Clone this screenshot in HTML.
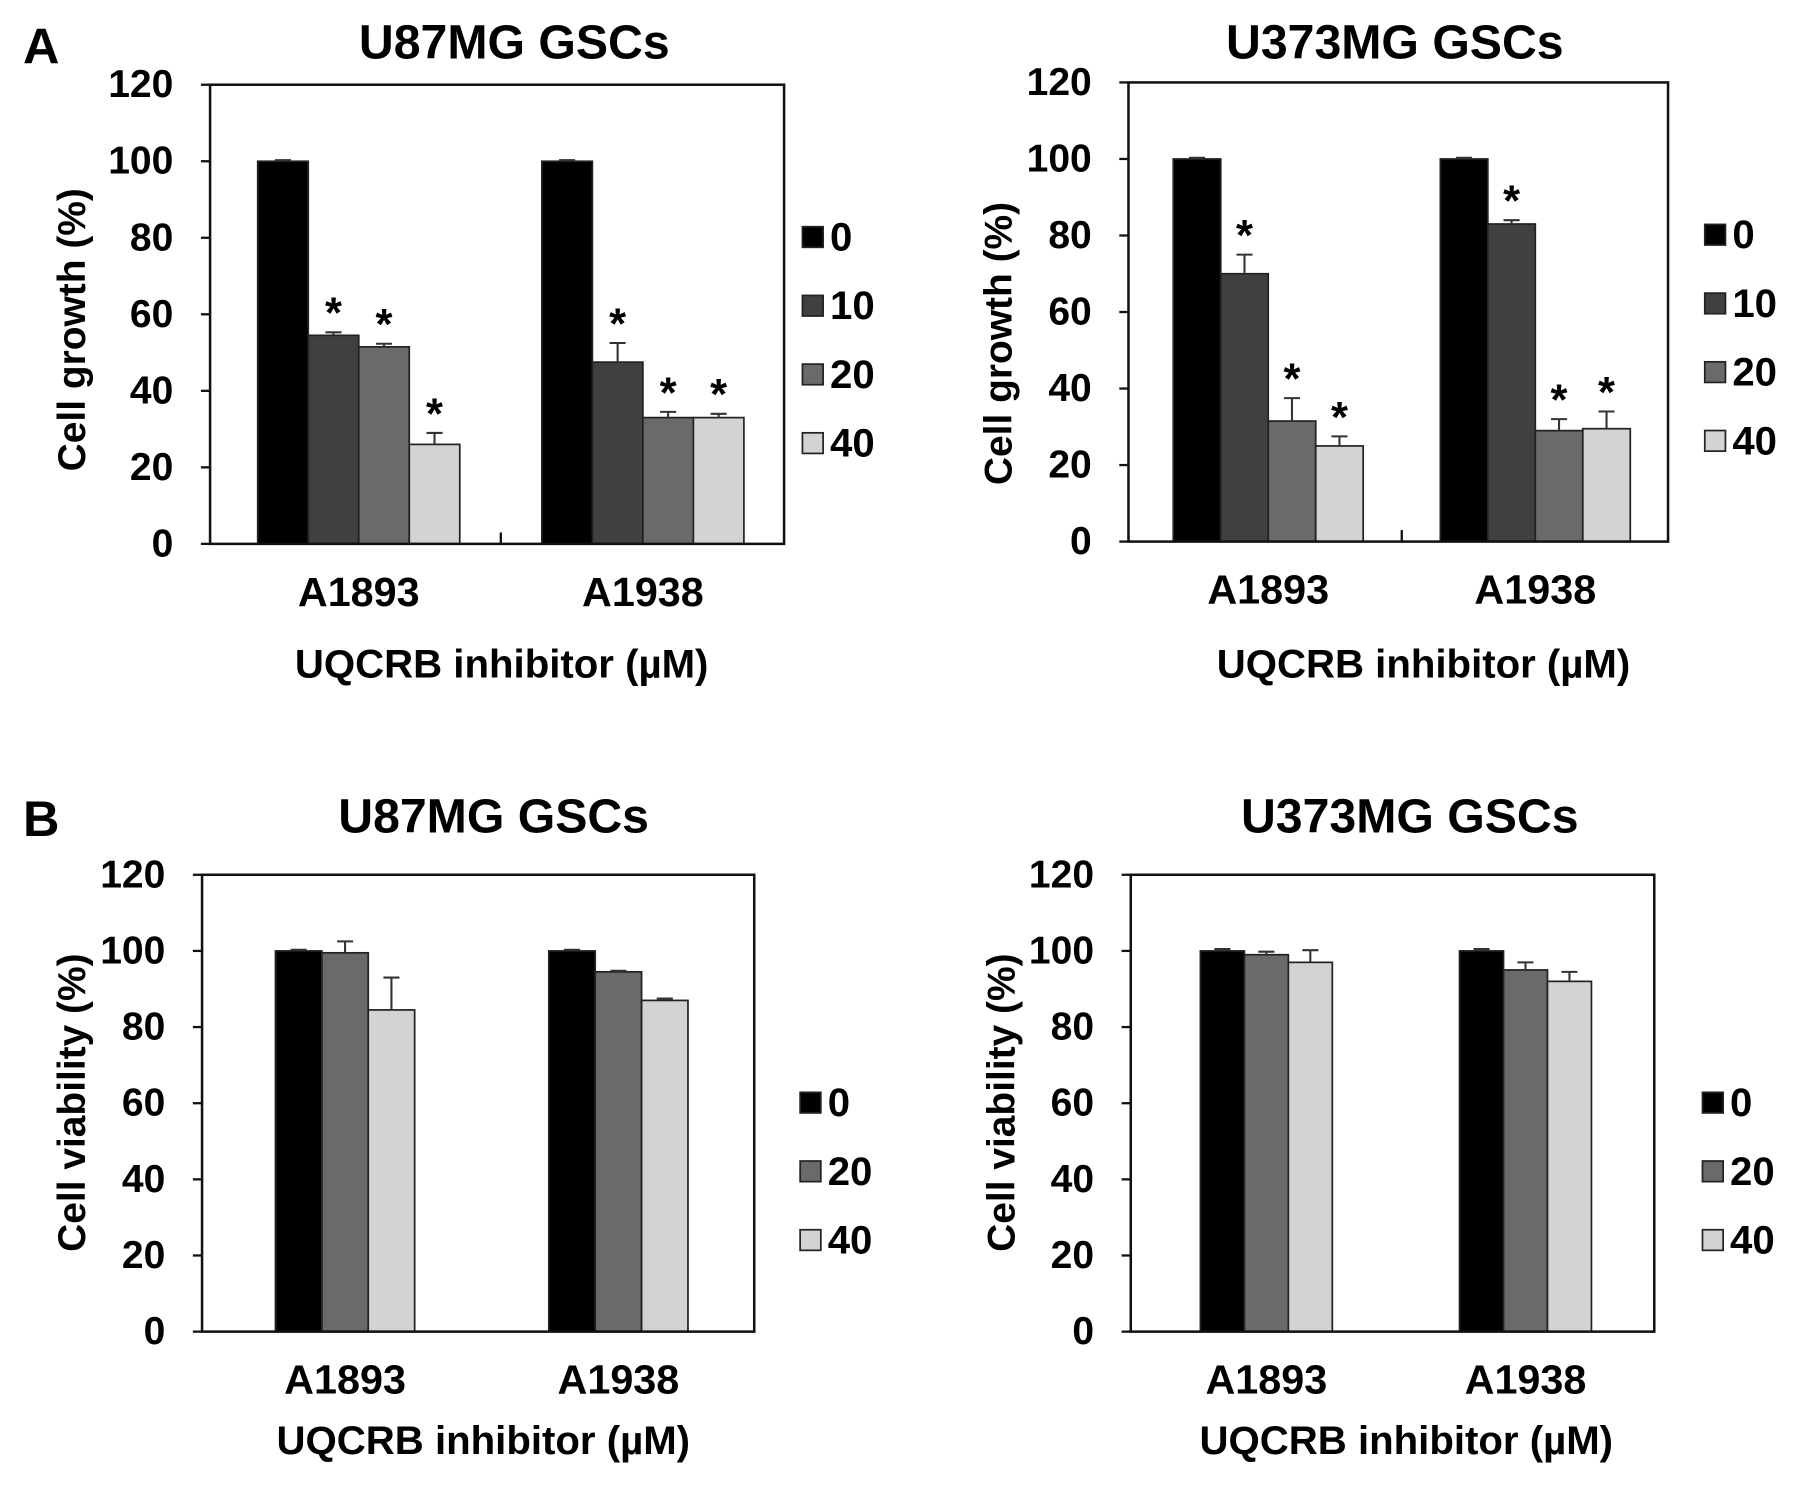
<!DOCTYPE html>
<html><head><meta charset="utf-8"><style>
html,body{margin:0;padding:0;background:#fff;}
svg{display:block;font-family:"Liberation Sans",Arial,sans-serif;font-weight:bold;}
</style></head><body>
<svg id="fig" width="1795" height="1485" viewBox="0 0 1795 1485" xmlns="http://www.w3.org/2000/svg">
<g id="root" transform="translate(0,0) scale(1.148,1.145)"></g>
</svg>
<script>
// ---- data ----
const categories = ["A1893", "A1938"];
const yTicks = [0, 20, 40, 60, 80, 100, 120];
const seriesColors = ["#000000", "#404040", "#6a6a6a", "#d3d3d3"];

const aLeftSeries = ["0", "10", "20", "40"];
const aLeftValues = [[100, 100], [54.5, 47.5], [51.5, 33], [26, 33]];
const aLeftErrors = [[0.3, 0.3], [0.8, 5], [0.8, 1.5], [3, 1]];
const aLeftStars = [[false, false], [true, true], [true, true], [true, true]];

const aRightSeries = ["0", "10", "20", "40"];
const aRightValues = [[100, 100], [70, 83], [31.5, 29], [25, 29.5]];
const aRightErrors = [[0.3, 0.3], [5, 1], [6, 3], [2.5, 4.5]];
const aRightStars = [[false, false], [true, true], [true, true], [true, true]];

const bLeftSeries = ["0", "20", "40"];
const bLeftValues = [[100, 100], [99.5, 94.5], [84.5, 87]];
const bLeftErrors = [[0.3, 0.3], [3, 0.3], [8.5, 0.5]];

const bRightSeries = ["0", "20", "40"];
const bRightValues = [[100, 100], [99, 95], [97, 92]];
const bRightErrors = [[0.5, 0.5], [0.8, 2], [3.2, 2.5]];

// ---- drawing ----
const NS = "http://www.w3.org/2000/svg";
const root = document.getElementById("root");
function mk(tag, attrs, parent, text) {
  const e = document.createElementNS(NS, tag);
  for (const k in attrs) e.setAttribute(k, attrs[k]);
  if (text !== undefined) e.textContent = text;
  (parent || root).appendChild(e);
  return e;
}

function panel(cfg) {
  const g = mk("g", {});
  
  
  const L = cfg.x0, R = cfg.x1, T = cfg.y0, B = cfg.y1;
  const yScale = v => B - (v / 120) * (B - T);
  const W = R - L;
  const groupCenter = i => L + W * (i === 0 ? 0.259 : 0.754);
  const nS = cfg.series.length;
  const bw = W * (nS === 4 ? 0.088 : 0.084);
  const xScale = (gi, si) => groupCenter(gi) - (nS * bw) / 2 + si * bw;

  const t = mk("text", {x: cfg.titleX, y: cfg.titleY, "font-size": 42, "text-anchor": "middle", "dominant-baseline": "central"}, g, cfg.title);
  
  

  for (let s = 0; s < nS; s++) {
    for (let c = 0; c < categories.length; c++) {
      const v = cfg.values[s][c];
      const x = xScale(c, s);
      const r = mk("rect", {x: x, y: yScale(v), width: bw, height: B - yScale(v), fill: seriesColors[cfg.colorIdx[s]], stroke: "#222", "stroke-width": 1.5}, g);
      
      
      const e = cfg.errors[s][c];
      const cx = x + bw / 2;
      const top = yScale(v + e);
      const eb = mk("path", {d: `M${cx},${yScale(v)}V${top}M${cx - 7},${top}H${cx + 7}`, stroke: "#333", "stroke-width": 1.8, fill: "none"}, g);
      
      
      if (cfg.stars && cfg.stars[s][c]) {
        const st = mk("text", {x: cx, y: top - 4, "font-size": 38, "text-anchor": "middle"}, g, "*");
        
        
      }
    }
  }

  const fr = mk("rect", {x: L, y: T, width: W, height: B - T, fill: "none", stroke: "#111", "stroke-width": 2.2}, g);
  
  
  yTicks.forEach(v => {
    const y = yScale(v);
    mk("line", {x1: L - 8, x2: L, y1: y, y2: y, stroke: "#111", "stroke-width": 2}, g);
    const tl = mk("text", {x: L - 32, y: y, "font-size": 34, "text-anchor": "end", "dominant-baseline": "central"}, g, String(v));
    
    
  });
  if (cfg.midTick) {
    const mx = (groupCenter(0) + groupCenter(1)) / 2;
    mk("line", {x1: mx, x2: mx, y1: B, y2: B - 10, stroke: "#111", "stroke-width": 2}, g);
  }
  categories.forEach((c, i) => {
    const cl = mk("text", {x: groupCenter(i), y: cfg.catY, "font-size": 36, "text-anchor": "middle", "dominant-baseline": "central"}, g, c);
    
    
  });
  const xt = mk("text", {x: cfg.xTitleX, y: cfg.xTitleY, "font-size": 35, "text-anchor": "middle", "dominant-baseline": "central"}, g, "UQCRB inhibitor (\u00b5M)");
  
  
  const yt = mk("text", {x: 0, y: 0, "font-size": 34, "text-anchor": "middle", "dominant-baseline": "central", transform: `translate(${cfg.yTitleX},${cfg.yTitleY}) rotate(-90)`}, g, cfg.yTitle);
  
  
  cfg.series.forEach((s, i) => {
    const ly = cfg.legY + i * 60;
    const lg = mk("g", {}, g);
    
    
    mk("rect", {x: cfg.legX, y: ly - 9, width: 18, height: 18, fill: seriesColors[cfg.colorIdx[i]], stroke: "#222", "stroke-width": 1.5}, lg);
    mk("text", {x: cfg.legX + 24, y: ly, "font-size": 35, "dominant-baseline": "central"}, lg, s);
  });
}

panel({name: "panel-a-u87mg", x0: 183, x1: 683, y0: 74, y1: 475, title: "U87MG GSCs", titleX: 448, titleY: 37,
  series: aLeftSeries, values: aLeftValues, errors: aLeftErrors, stars: aLeftStars, colorIdx: [0, 1, 2, 3],
  midTick: true, catY: 517, xTitleX: 437, xTitleY: 580, yTitle: "Cell growth (%)", yTitleX: 63, yTitleY: 288, legX: 699, legY: 207});
panel({name: "panel-a-u373mg", x0: 983, x1: 1453, y0: 72, y1: 473, title: "U373MG GSCs", titleX: 1215, titleY: 37,
  series: aRightSeries, values: aRightValues, errors: aRightErrors, stars: aRightStars, colorIdx: [0, 1, 2, 3],
  midTick: true, catY: 515, xTitleX: 1240, xTitleY: 580, yTitle: "Cell growth (%)", yTitleX: 870, yTitleY: 300, legX: 1485, legY: 205});
panel({name: "panel-b-u87mg", x0: 176, x1: 657, y0: 764, y1: 1163, title: "U87MG GSCs", titleX: 430, titleY: 713,
  series: bLeftSeries, values: bLeftValues, errors: bLeftErrors, stars: null, colorIdx: [0, 2, 3],
  midTick: false, catY: 1205, xTitleX: 421, xTitleY: 1258, yTitle: "Cell viability (%)", yTitleX: 63, yTitleY: 963, legX: 697, legY: 963});
panel({name: "panel-b-u373mg", x0: 985, x1: 1441, y0: 764, y1: 1163, title: "U373MG GSCs", titleX: 1228, titleY: 713,
  series: bRightSeries, values: bRightValues, errors: bRightErrors, stars: null, colorIdx: [0, 2, 3],
  midTick: false, catY: 1205, xTitleX: 1225, xTitleY: 1258, yTitle: "Cell viability (%)", yTitleX: 873, yTitleY: 963, legX: 1483, legY: 963});

const la = mk("text", {x: 20, y: 40, "font-size": 44, "dominant-baseline": "central"}, root, "A");


const lb = mk("text", {x: 20, y: 715, "font-size": 44, "dominant-baseline": "central"}, root, "B");


</script>
</body></html>
